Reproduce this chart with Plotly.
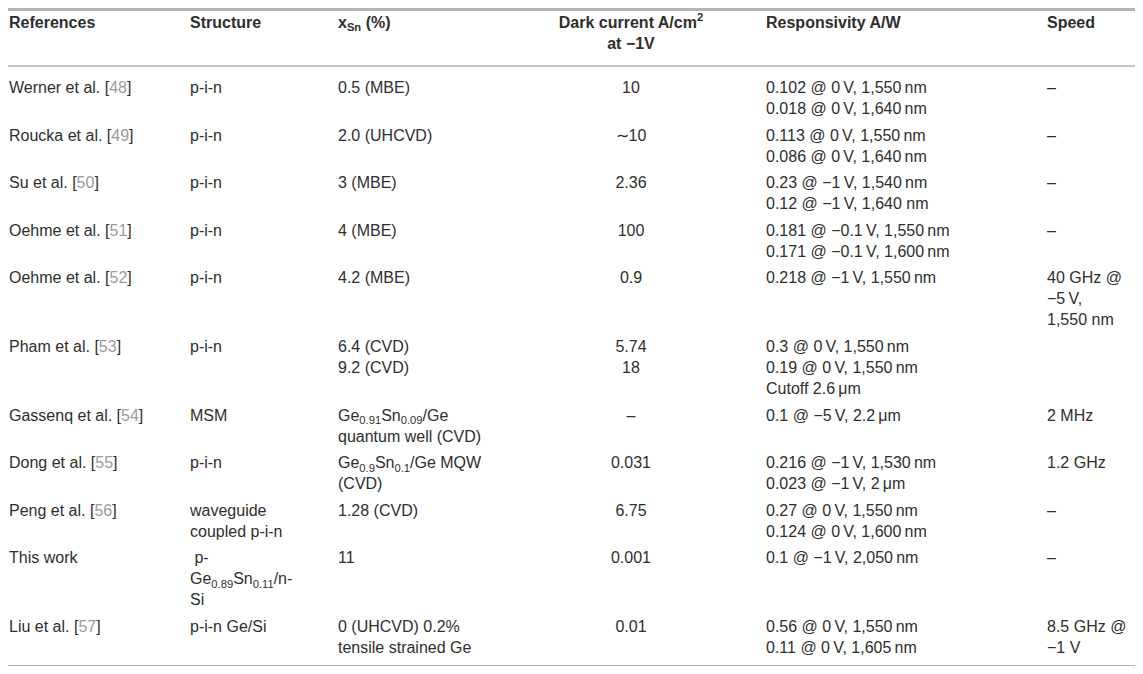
"""
Comparison table of GeSn photodetectors, drawn as a Plotly figure.
Each column is a text trace; rows are stacked from their line counts.
"""
import plotly.graph_objects as go

REF_GRAY = '#9b9b9b'
TS = '\u2009'  # thin space used in units
MINUS = '\u2212'


def ref(name, num):
    return f'{name} [<span style="color:{REF_GRAY}">{num}</span>]'


# ---- table content (one entry per row, "\n" = line break inside a cell) ----
headers = [
    '<b>References</b>',
    '<b>Structure</b>',
    '<b>x<sub>Sn</sub> (%)</b>',
    '<b>Dark current A/cm<sup>2</sup></b>\n<b>at ' + MINUS + '1V</b>',
    '<b>Responsivity A/W</b>',
    '<b>Speed</b>',
]

references = [
    ref('Werner et al.', 48),
    ref('Roucka et al.', 49),
    ref('Su et al.', 50),
    ref('Oehme et al.', 51),
    ref('Oehme et al.', 52),
    ref('Pham et al.', 53),
    ref('Gassenq et al.', 54),
    ref('Dong et al.', 55),
    ref('Peng et al.', 56),
    'This work',
    ref('Liu et al.', 57),
]

structures = [
    'p-i-n', 'p-i-n', 'p-i-n', 'p-i-n', 'p-i-n', 'p-i-n', 'MSM', 'p-i-n',
    'waveguide\ncoupled p-i-n',
    '\u00a0p-\nGe<sub>0.89</sub>Sn<sub>0.11</sub>/n-\nSi',
    'p-i-n Ge/Si',
]

sn_content = [
    '0.5 (MBE)',
    '2.0 (UHCVD)',
    '3 (MBE)',
    '4 (MBE)',
    '4.2 (MBE)',
    '6.4 (CVD)\n9.2 (CVD)',
    'Ge<sub>0.91</sub>Sn<sub>0.09</sub>/Ge\nquantum well (CVD)',
    'Ge<sub>0.9</sub>Sn<sub>0.1</sub>/Ge MQW\n(CVD)',
    '1.28 (CVD)',
    '11',
    '0 (UHCVD) 0.2%\ntensile strained Ge',
]

dark_current = [
    '10', '\u223c10', '2.36', '100', '0.9', '5.74\n18', '\u2013',
    '0.031', '6.75', '0.001', '0.01',
]

responsivity = [
    f'0.102 @ 0{TS}V, 1,550{TS}nm\n0.018 @ 0{TS}V, 1,640{TS}nm',
    f'0.113 @ 0{TS}V, 1,550{TS}nm\n0.086 @ 0{TS}V, 1,640{TS}nm',
    f'0.23 @ {MINUS}1{TS}V, 1,540{TS}nm\n0.12 @ {MINUS}1{TS}V, 1,640 nm',
    f'0.181 @ {MINUS}0.1{TS}V, 1,550{TS}nm\n0.171 @ {MINUS}0.1{TS}V, 1,600{TS}nm',
    f'0.218 @ {MINUS}1{TS}V, 1,550{TS}nm',
    f'0.3 @ 0{TS}V, 1,550{TS}nm\n0.19 @ 0{TS}V, 1,550{TS}nm\nCutoff 2.6{TS}\u03bcm',
    f'0.1 @ {MINUS}5{TS}V, 2.2{TS}\u03bcm',
    f'0.216 @ {MINUS}1{TS}V, 1,530{TS}nm\n0.023 @ {MINUS}1{TS}V, 2{TS}\u03bcm',
    f'0.27 @ 0{TS}V, 1,550{TS}nm\n0.124 @ 0{TS}V, 1,600{TS}nm',
    f'0.1 @ {MINUS}1{TS}V, 2,050{TS}nm',
    f'0.56 @ 0{TS}V, 1,550{TS}nm\n0.11 @ 0{TS}V, 1,605{TS}nm',
]

speed = [
    '\u2013', '\u2013', '\u2013', '\u2013',
    f'40 GHz @\n{MINUS}5{TS}V,\n1,550 nm',
    '',
    '2 MHz',
    '1.2 GHz',
    '\u2013',
    '\u2013',
    f'8.5 GHz @\n{MINUS}1 V',
]

columns = [references, structures, sn_content, dark_current, responsivity, speed]

# ---- layout in page pixel units ----
# the page body has an 8px margin, so the figure is 16px smaller than the
# window and the axes are offset so that one unit is one page pixel
W, H = 1143, 674
PAGE_MARGIN = 8
col_x = [9, 190, 338, 631, 766, 1047]
col_pos = ['middle right', 'middle right', 'middle right',
           'middle center', 'middle right', 'middle right']
HEADER_Y = 24
FIRST_Y = 89
LINE = 21
ROW_GAP = 5.6
TOP_RULE, HEAD_RULE, BOTTOM_RULE = 9.5, 66, 666

FONT = 'Liberation Sans, Arial, Helvetica, sans-serif'
TEXT_COLOR = '#2e2e2e'

# y of the first line of every row
n_rows = len(references)
row_lines = [max(len(col[i].split('\n')) for col in columns) for i in range(n_rows)]
row_y = []
y = FIRST_Y
for n in row_lines:
    row_y.append(y)
    y += n * LINE + ROW_GAP

fig = go.Figure()

for c, col in enumerate(columns):
    xs, ys, texts = [], [], []
    # header
    for j, line in enumerate(headers[c].split('\n')):
        xs.append(col_x[c])
        ys.append(HEADER_Y + j * LINE)
        texts.append(line)
    # body
    for i, cell in enumerate(col):
        for j, line in enumerate(cell.split('\n')):
            if not line:
                continue
            xs.append(col_x[c])
            ys.append(row_y[i] + j * LINE)
            texts.append(line)
    fig.add_trace(go.Scatter(
        x=xs, y=ys, text=texts,
        mode='text',
        textposition=col_pos[c],
        textfont=dict(family=FONT, size=16, color=TEXT_COLOR),
        cliponaxis=False,
        hoverinfo='skip',
        showlegend=False,
    ))

rules = [(TOP_RULE, 3, '#b4b4b4'), (HEAD_RULE, 2, '#c4c4c4'), (BOTTOM_RULE, 2, '#b0b0b0')]
for ry, lw, lc in rules:
    fig.add_shape(type='line', xref='x', yref='y', x0=0, x1=W, y0=ry, y1=ry,
                  line=dict(color=lc, width=lw))

fig.update_layout(
    width=W - 2 * PAGE_MARGIN, height=H - 2 * PAGE_MARGIN,
    margin=dict(l=0, r=0, t=0, b=0),
    paper_bgcolor='white',
    plot_bgcolor='white',
    xaxis=dict(range=[PAGE_MARGIN, W - PAGE_MARGIN], visible=False, fixedrange=True),
    yaxis=dict(range=[H - PAGE_MARGIN, PAGE_MARGIN], visible=False, fixedrange=True),
    hovermode=False,
)

fig.write_html('out.html')
